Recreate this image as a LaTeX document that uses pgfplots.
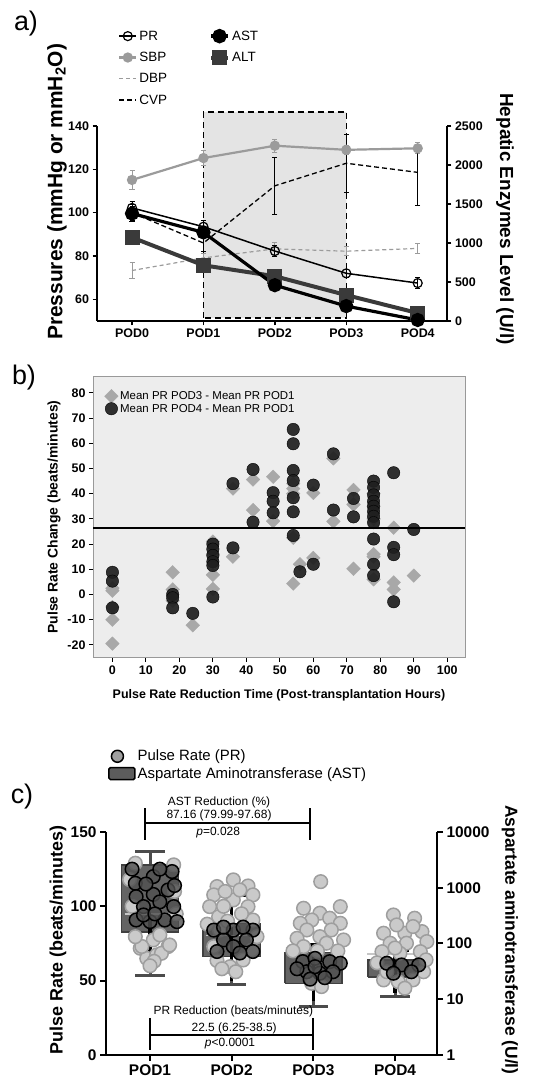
\documentclass[border=0pt]{standalone}
\usepackage{pgfplots}
\pgfplotsset{compat=1.18}
\usepackage{fontspec}
\setmainfont{Liberation Sans}
\definecolor{sbpc}{HTML}{9B9B9B}
\definecolor{altc}{HTML}{3A3A3A}
\definecolor{shade}{HTML}{E4E4E4}
\definecolor{bbg}{HTML}{EDEDED}
\definecolor{diam}{HTML}{A8A8A8}
\definecolor{lcirc}{HTML}{CACACA}
\definecolor{lcircd}{HTML}{9E9E9E}
\definecolor{boxc}{HTML}{5C5C5C}
\definecolor{dcirc}{HTML}{505050}
\newcommand{\fs}[1]{\fontsize{#1}{#1}\selectfont}
\pgfplotsset{
  /pgf/number format/assume math mode=true,
  /pgf/number format/1000 sep={},
}
\begin{document}
\begin{tikzpicture}
\useasboundingbox (0,0) rectangle (533bp,1083bp);
\node[font=\fs{27}] at (26bp,1059bp) {a)};
\node[font=\fs{27}] at (24bp,705bp) {b)};
\node[font=\fs{27}] at (22bp,286bp) {c)};

% ---------------- Panel a, left axis
\begin{axis}[
  at={(97bp,762bp)}, anchor=south west,
  scale only axis, width=350bp, height=195bp,
  xmin=-0.49, xmax=4.41, ymin=50, ymax=140,
  clip=false,
  axis x line*=bottom, axis y line*=left,
  axis line style={line width=1.5bp},
  tick align=outside, major tick length=4.5bp,
  tick style={line width=1.3bp, black},
  xtick={0,1,2,3,4}, xticklabels={POD0,POD1,POD2,POD3,POD4},
  ytick={60,80,...,140},
  tick label style={font=\bfseries\fs{12.5}},
  legend columns=2,
  legend cell align=left,
  legend style={at={(0.06,1.50)}, anchor=north west, draw=none, fill=none,
    font=\fs{13.5}, row sep=6.5bp, inner sep=0pt,
    /tikz/every even column/.append style={column sep=40bp}},
]
\addplot[forget plot, fill=shade, draw=black, line width=1.3bp, dash pattern=on 6bp off 4bp]
  coordinates {(1,51.4) (1,146.4) (3,146.4) (3,51.4) (1,51.4)};
% DBP
\addplot[forget plot, sbpc, line width=1.2bp, dash pattern=on 4bp off 3bp,
  error bars/.cd, y dir=both, y explicit, error bar style={solid, line width=0.9bp},
  error mark options={rotate=90, solid, line width=0.9bp, mark size=2.5bp}]
  coordinates {(0,73.3) +- (0,3.8) (1,79.1) +- (0,2) (2,83.3) +- (0,3) (3,82.2) +- (0,2) (4,83.5) +- (0,2.5)};
% SBP
\addplot[forget plot, sbpc, line width=2.2bp, mark=*, mark size=4bp, mark options={solid, fill=sbpc},
  error bars/.cd, y dir=both, y explicit, error bar style={line width=0.9bp},
  error mark options={rotate=90, line width=0.9bp, mark size=2.5bp}]
  coordinates {(0,115.1) +- (0,4.6) (1,125.2) +- (0,3.4) (2,130.9) +- (0,3) (3,129) +- (0,2) (4,129.7) +- (0,2.5)};
% CVP
\addplot[forget plot, black, line width=1.3bp, dash pattern=on 5bp off 3bp,
  error bars/.cd, y dir=both, y explicit, error bar style={solid, line width=0.9bp},
  error mark options={rotate=90, solid, line width=0.9bp, mark size=2.5bp}]
  coordinates {(0,100) +- (0,4) (1,86) +- (0,4) (2,112.4) +- (0,13) (3,122.8) +- (0,13.5) (4,118.6) += (0,10.4) -= (0,15.2)};
% PR
\addplot[forget plot, black, line width=1.5bp, mark=o, mark size=4.5bp, mark options={line width=1.2bp},
  error bars/.cd, y dir=both, y explicit, error bar style={line width=0.9bp},
  error mark options={rotate=90, line width=0.9bp, mark size=2.5bp}]
  coordinates {(0,102.2) +- (0,3) (1,93.5) +- (0,3) (2,82.3) +- (0,2.5) (3,72) +- (0,2) (4,67.5) +- (0,2.5)};
% legend
\addlegendimage{black, line width=1.5bp, mark=o, mark size=4.5bp, mark options={line width=1.2bp}}
\addlegendentry{PR}
\addlegendimage{black, line width=3.5bp, mark=*, mark size=5.5bp}
\addlegendentry{AST}
\addlegendimage{sbpc, line width=2.2bp, mark=*, mark size=4bp, mark options={fill=sbpc}}
\addlegendentry{SBP}
\addlegendimage{altc, line width=4bp, mark=square*, mark size=5.5bp}
\addlegendentry{ALT}
\addlegendimage{sbpc, line width=1.2bp, dash pattern=on 4bp off 3bp}
\addlegendentry{DBP}
\addlegendimage{empty legend}
\addlegendentry{}
\addlegendimage{black, line width=1.3bp, dash pattern=on 5bp off 3bp}
\addlegendentry{CVP}
\addlegendimage{empty legend}
\addlegendentry{}
\node[rotate=90, font=\bfseries\fs{21}] at (rel axis cs:-0.114,0.662) {Pressures (mmHg or mmH\textsubscript{2}O)};
\end{axis}

% ---------------- Panel a, right axis
\begin{axis}[
  at={(97bp,762bp)}, anchor=south west,
  scale only axis, width=350bp, height=195bp,
  xmin=-0.49, xmax=4.41, ymin=0, ymax=2500,
  clip=false,
  axis x line=none, axis y line*=right,
  axis line style={line width=1.5bp},
  tick align=outside, major tick length=4.5bp,
  tick style={line width=1.3bp, black},
  ytick={0,500,...,2500},
  tick label style={font=\bfseries\fs{12.5}},
]
\addplot[altc, line width=4bp, mark=square*, mark size=5.5bp,
  error bars/.cd, y dir=both, y explicit, error bar style={line width=0.9bp},
  error mark options={rotate=90, line width=0.9bp, mark size=2.5bp}]
  coordinates {(0,1071) +- (0,60) (1,714) +- (0,50) (2,574) +- (0,30) (3,332) +- (0,20) (4,102) +- (0,10)};
\addplot[black, line width=3.2bp, mark=*, mark size=5.5bp,
  error bars/.cd, y dir=both, y explicit, error bar style={line width=0.9bp},
  error mark options={rotate=90, line width=0.9bp, mark size=2.5bp}]
  coordinates {(0,1378) +- (0,90) (1,1136) +- (0,60) (2,459) +- (0,30) (3,191) +- (0,20) (4,13) +- (0,5)};
\node[rotate=-90, font=\bfseries\fs{19}] at (rel axis cs:1.166,0.523) {Hepatic Enzymes Level (U/l)};
\end{axis}

% ---------------- Panel b
\begin{axis}[
  at={(93bp,425bp)}, anchor=south west,
  scale only axis, width=372bp, height=281bp,
  xmin=-5.8, xmax=105.3, ymin=-25.2, ymax=86.3,
  clip mode=individual,
  axis background/.style={fill=bbg},
  axis line style={draw=gray!80, line width=1bp},
  tick pos=left, tick align=outside, major tick length=4bp,
  tick style={black, line width=0.9bp},
  xtick={0,10,...,100}, ytick={-20,-10,...,80},
  tick label style={font=\bfseries\fs{12.5}},
  legend style={at={(0.028,0.96)}, anchor=north west, draw=none, fill=none,
    font=\fs{11.5}, row sep=-1bp, inner sep=1bp},
  legend cell align=left,
]
\addplot[only marks, mark=square*, mark size=4.8bp, mark options={rotate=45, fill=diam, draw=diam}]
  coordinates {(0,2.5) (0,1.5) (0,-5) (0,-10) (0,-19.5)
  (18,8.8) (18,2) (18,-2.5) (24,-12.2)
  (30,21) (30,16) (30,7.8) (30,2.2) (36,42) (36,15)
  (42,45.6) (42,33.5) (48,46.7) (48,29.1)
  (54,44) (54,42) (54,40) (54,22.5) (54,4.3) (56,12)
  (60,40.3) (60,14.5) (66,54) (66,29)
  (72,41.5) (72,35.7) (72,10.2)
  (78,40) (78,35) (78,30) (78,16) (78,15) (78,6)
  (84,26.5) (84,4.8) (84,2) (90,7.5)};
\addlegendentry{Mean PR POD3 - Mean PR POD1}
\addplot[only marks, mark=*, mark size=6.2bp, mark options={fill=black!88, draw=black, fill opacity=0.92}]
  coordinates {(0,8.8) (0,5.3) (0,-5.3)
  (18,0) (18,-1.3) (18,-5.3) (24,-7.5)
  (30,20) (30,18) (30,15.5) (30,13) (30,11.5) (30,-1)
  (36,44) (36,18.5) (42,49.6) (42,28.7)
  (48,40.4) (48,37) (48,32.4)
  (54,65.5) (54,59.8) (54,49.2) (54,45.2) (54,38.4) (54,32.8) (54,23.4)
  (56,9) (60,43.4) (60,12) (66,55.8) (66,33.5) (72,38.1) (72,30.8)
  (78,45) (78,42.5) (78,39.5) (78,37) (78,35) (78,33) (78,31) (78,28.5) (78,22) (78,12) (78,7.5)
  (84,48.3) (84,18.7) (84,15.8) (84,-2.9) (90,25.8)};
\addlegendentry{Mean PR POD4 - Mean PR POD1}
\addplot[forget plot, black, line width=1.6bp] coordinates {(-5.8,26.5) (105.3,26.5)};
\end{axis}
\node[rotate=90, font=\bfseries\fs{14}] at (54bp,566bp) {Pulse Rate Change (beats/minutes)};
\node[font=\bfseries\fs{12.5}] at (279bp,388bp) {Pulse Rate Reduction Time (Post-transplantation Hours)};

% ---------------- Panel c, left axis
\begin{axis}[
  at={(106bp,28bp)}, anchor=south west,
  scale only axis, width=331bp, height=223bp,
  xmin=0.461, xmax=4.514, ymin=0, ymax=150,
  clip=false,
  axis x line*=bottom, axis y line*=left,
  axis line style={line width=2bp},
  tick align=outside, major tick length=6bp,
  tick style={line width=2bp, black},
  xtick={1,2,3,4}, xticklabels={POD1,POD2,POD3,POD4},
  ytick={0,50,100,150},
  tick label style={font=\bfseries\fs{15.5}},
  legend style={at={(0.006,1.377)}, anchor=north west, draw=none, fill=none,
    font=\fs{15}, row sep=1bp, inner sep=0pt},
  legend cell align=left,
]
% light PR circles
\addplot[forget plot, only marks, mark=*, mark size=6.8bp, mark options={fill=lcirc, draw=lcircd, line width=1.5bp}]
  coordinates {(0.88,71.8) (1.04,77.4) (1.22,72.9) (1.12,80.8) (0.96,65) (1.08,67.3) (0.82,129) (1.29,127.9)
  (0.9,73) (1.14,68.4) (1.05,63) (0.82,79.6) (1.24,74) (1.0,60) (0.75,118) (1.3,110) (0.78,100) (1.32,95)
  (1.82,113.3) (2.02,117.8) (2.2,113.7) (1.78,107.7) (2.26,107.7) (1.73,99.8) (2.2,99.8) (1.84,93) (2.26,90.8)
  (1.85,84) (2.31,79.6) (1.78,72.9) (1.98,59.4) (2.14,63.9) (1.82,63.5) (2.25,70.7) (2.02,104.3) (2.1,111)
  (1.92,110) (1.9,100) (2.12,95) (1.95,90) (1.7,88) (2.05,56) (1.88,58)
  (3.09,116.6) (2.88,98.7) (3.33,99.8) (3.08,95.4) (2.98,90.8) (3.2,92) (2.84,88.6) (3.33,88.6) (2.92,84.1)
  (3.22,84.1) (3.08,79.6) (3.37,77.4) (2.8,78.5) (2.88,72.9) (3.16,75.2) (2.98,48.2) (3.1,46) (3.3,70) (2.75,70) (3.05,70)
  (3.98,94.2) (4.24,92) (3.86,81.9) (4.12,81.9) (4.33,83) (4.02,87.5) (4.22,86.4) (3.94,75.2) (4.14,75.2)
  (4.39,76.3) (3.84,69.5) (4.31,69.5) (4.06,68.4) (3.86,50.5) (4.04,49.3) (4.22,50.5) (4.12,44.9) (3.9,56)
  (4.35,56) (3.78,62) (4.38,64) (4.0,72)};
% AST boxes: whiskers (dark grey) then boxes
\addplot[forget plot, black!70, line width=3bp, unbounded coords=jump]
  coordinates {(1,127.9) (1,136.8) (nan,nan) (0.82,136.8) (1.18,136.8) (nan,nan) (1,82.8) (1,53.8) (nan,nan) (0.82,53.8) (1.18,53.8) (nan,nan)
  (2,88.6) (2,107.7) (nan,nan) (2,66.2) (2,47.1) (nan,nan) (1.82,47.1) (2.18,47.1) (nan,nan)
  (3,68.9) (3,74) (nan,nan) (3,48.2) (3,32.5) (nan,nan) (2.82,32.5) (3.18,32.5) (nan,nan)
  (4,63.9) (4,70.6) (nan,nan) (4,52.3) (4,39.3) (nan,nan) (3.82,39.3) (4.18,39.3)};
\addplot[forget plot, fill=boxc, draw=black!75, line width=1.5bp, fill opacity=0.95]
  coordinates {(0.65,82.8) (1.35,82.8) (1.35,127.9) (0.65,127.9) (0.65,82.8)};
\addplot[forget plot, fill=boxc, draw=black!75, line width=1.5bp, fill opacity=0.95]
  coordinates {(1.65,66.2) (2.35,66.2) (2.35,88.6) (1.65,88.6) (1.65,66.2)};
\addplot[forget plot, fill=boxc, draw=black!75, line width=1.5bp, fill opacity=0.95]
  coordinates {(2.65,48.2) (3.35,48.2) (3.35,68.9) (2.65,68.9) (2.65,48.2)};
\addplot[forget plot, fill=boxc, draw=black!75, line width=1.5bp, fill opacity=0.95]
  coordinates {(3.67,52.3) (4.33,52.3) (4.33,63.9) (3.67,63.9) (3.67,52.3)};
% dark circles
\addplot[forget plot, only marks, mark=*, mark size=6.8bp, mark options={fill=dcirc, draw=black, line width=1.5bp, fill opacity=0.8}]
  coordinates {(0.82,115.5) (1.04,120) (1.27,123.4) (0.83,106.5) (1.04,108) (1.22,111) (0.92,99.8) (1.12,103)
  (1.29,99.8) (0.83,90.8) (1.0,89.7) (1.18,90.8) (1.33,89.7) (0.92,94.2) (1.06,94.9) (0.78,125) (1.12,125) (0.95,115) (1.3,114)
  (1.78,84) (2.02,84) (2.26,84) (1.9,77.4) (2.18,77.4) (2.02,72.9) (1.82,69.6) (2.26,69.6) (2.1,68.6) (1.9,86) (2.14,86)
  (2.87,62.8) (3.02,65) (3.2,62.8) (3.33,61.7) (2.92,56) (3.08,55) (3.24,56) (3.02,59.4) (2.8,58) (3.14,52) (2.96,51)
  (3.9,61.7) (4.08,60.6) (4.29,60.6) (3.98,55) (4.2,56)};
% black whiskers
\addplot[forget plot, black, line width=3.5bp, unbounded coords=jump]
  coordinates {(1,93) (1,58.5) (nan,nan) (2,107.7) (2,50) (nan,nan) (1.83,107.7) (2.17,107.7) (nan,nan)
  (3,74) (3,36) (nan,nan) (2.83,74) (3.17,74) (nan,nan) (4,70.6) (4,42) (nan,nan) (3.83,70.6) (4.17,70.6)};
% PR medians
\addplot[forget plot, gray!45, line width=1.5bp, unbounded coords=jump]
  coordinates {(0.69,94.9) (1.41,94.9) (nan,nan) (1.68,80.5) (2.38,80.5) (nan,nan) (2.66,72) (3.36,72) (nan,nan) (3.66,68) (4.36,68)};
% brackets
\addplot[forget plot, black, line width=2.2bp, unbounded coords=jump]
  coordinates {(0.939,166.1) (0.939,144.6) (nan,nan) (0.939,155.9) (2.959,155.9) (nan,nan) (2.959,166.1) (2.959,144.6) (nan,nan)
  (1,24.9) (1,3.4) (nan,nan) (1,13.5) (3,13.5) (nan,nan) (3,24.9) (3,3.4)};
\node[font=\fs{12}] at (axis cs:1.845,170) {AST Reduction (\%)};
\node[font=\fs{12}] at (axis cs:1.845,161.4) {87.16 (79.99-97.68)};
\node[font=\fs{12}] at (axis cs:1.835,149.3) {\textit{p}=0.028};
\node[font=\fs{12}] at (axis cs:2.02,29.1) {PR Reduction (beats/minutes)};
\node[font=\fs{12}] at (axis cs:2.03,18.2) {22.5 (6.25-38.5)};
\node[font=\fs{12}] at (axis cs:1.98,7.4) {\textit{p}<0.0001};
\addlegendimage{only marks, mark=*, mark size=6bp, mark options={fill=gray!75, draw=black, line width=1.5bp}}
\addlegendentry{Pulse Rate (PR)}
\addlegendimage{legend image code/.code={\draw[fill=boxc, draw=black, line width=1.5bp, rounded corners=1.5bp] (0bp,-6bp) rectangle (26bp,6bp);}}
\addlegendentry{Aspartate Aminotransferase (AST)}
\node[rotate=90, font=\bfseries\fs{18}] at (rel axis cs:-0.145,0.516) {Pulse Rate (beats/minutes)};
\end{axis}

% ---------------- Panel c, right axis
\begin{axis}[
  at={(106bp,28bp)}, anchor=south west,
  scale only axis, width=331bp, height=223bp,
  xmin=0.461, xmax=4.514, ymode=log, ymin=1, ymax=10000,
  clip=false,
  axis x line=none, axis y line*=right,
  axis line style={line width=2bp},
  tick align=outside, major tick length=6bp,
  tick style={line width=2bp, black},
  ytick={1,10,100,1000,10000}, log ticks with fixed point, yminorticks=false,
  tick label style={font=\bfseries\fs{15.5}},
]
\addplot[draw=none, forget plot] coordinates {(1,1)};
\node[rotate=-90, font=\bfseries\fs{17.5}] at (rel axis cs:1.22,0.516) {Aspartate aminotransferase (U/l)};
\end{axis}
\end{tikzpicture}
\end{document}
